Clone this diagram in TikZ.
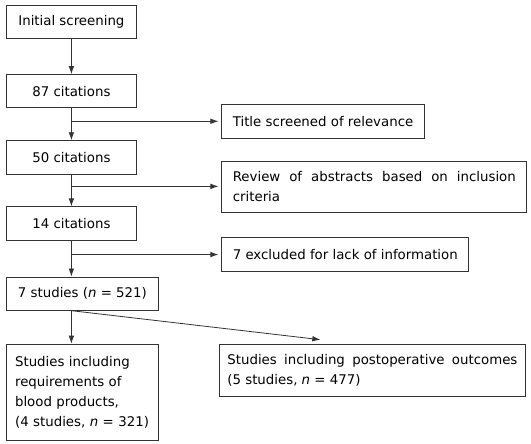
\documentclass[tikz,border=0pt]{standalone}
\usepackage{fontspec}
\setmainfont{DejaVu Sans}
\usetikzlibrary{arrows.meta,positioning}
\tikzset{>={Latex[length=6pt,width=4.2pt]}}
\newcommand{\nobreakword}{\hyphenpenalty10000 \tolerance9999 }

\begin{document}
\begin{tikzpicture}[node distance=24pt,
	every node/.style={font=\fontsize{10}{15}\selectfont},
	box/.style={draw=black!80, line width=0.6pt, inner xsep=8.25pt, inner ysep=3pt, minimum height=25pt},
	lbox/.style={box, minimum width=97.5pt},
	jbox/.style={box, align=justify, execute at begin node=\nobreakword},
	conn/.style={->, draw=black!80, line width=0.6pt}]
		\useasboundingbox (0,0) rectangle (398.25pt,-332.25pt);
		
		\node[lbox, anchor=north west] (init) at (4.5pt,-3.75pt) {Initial screening};
		\node[lbox, below=26.25pt of init] (c87) {87 citations};
		\node[lbox, below=of c87] (c50) {50 citations};
		\node[lbox, below=of c50] (c14) {14 citations};
		\node[box, minimum width=114pt, below=27pt of c14.south west, anchor=north west] (st7) {7 studies (\textit{n} = 521)};
		
		% split points on the main line
		\coordinate[below=9.75pt of c87.south] (s1);
		\coordinate[below=9pt of c50.south] (s2);
		\coordinate[below=10.5pt of c14.south] (s3);
		\coordinate (s4) at (st7.south -| c14.south);
		
		% side boxes
		\node[box, right=112.5pt of s1] (title) {Title screened of relevance};
		\node[jbox, minimum height=38.25pt, text width=212.25pt, right=112.5pt of s2] (review) {Review of abstracts based on inclusion criteria};
		\node[box, right=112.5pt of s3] (excl) {7 excluded for lack of information};
		
		% outcome boxes
		\node[box, text width=101pt, inner xsep=6.5pt, minimum height=72pt, align=left, below=24.75pt of st7.south west, anchor=north west] (blood) {Studies including\\requirements of\\blood products,\\(4 studies, \textit{n} = 321)};
		\node[jbox, text width=217.5pt, inner xsep=6pt, minimum height=39pt, right=159.75pt of blood.north west, anchor=north west] (postop) {Studies including postoperative outcomes (5 studies, \textit{n} = 477)};
		\coordinate[above right=3pt and 76pt of postop.north west] (pend);
		
		% main line
		\draw[conn] (init) -- (c87);
		\draw[conn] (c87) -- (c50);
		\draw[conn] (c50) -- (c14);
		\draw[conn] (c14.south) -- (c14.south |- st7.north);
		\draw[conn] (s4) -- (s4 |- blood.north);
		\draw[conn] (s4) -- (pend);
		
		% exclusions
		\draw[conn, shorten >=2.25pt] (s1) -- (title);
		\draw[conn, shorten >=2.25pt] (s2) -- (review);
		\draw[conn, shorten >=2.25pt] (s3) -- (excl);
	\end{tikzpicture}
\end{document}
